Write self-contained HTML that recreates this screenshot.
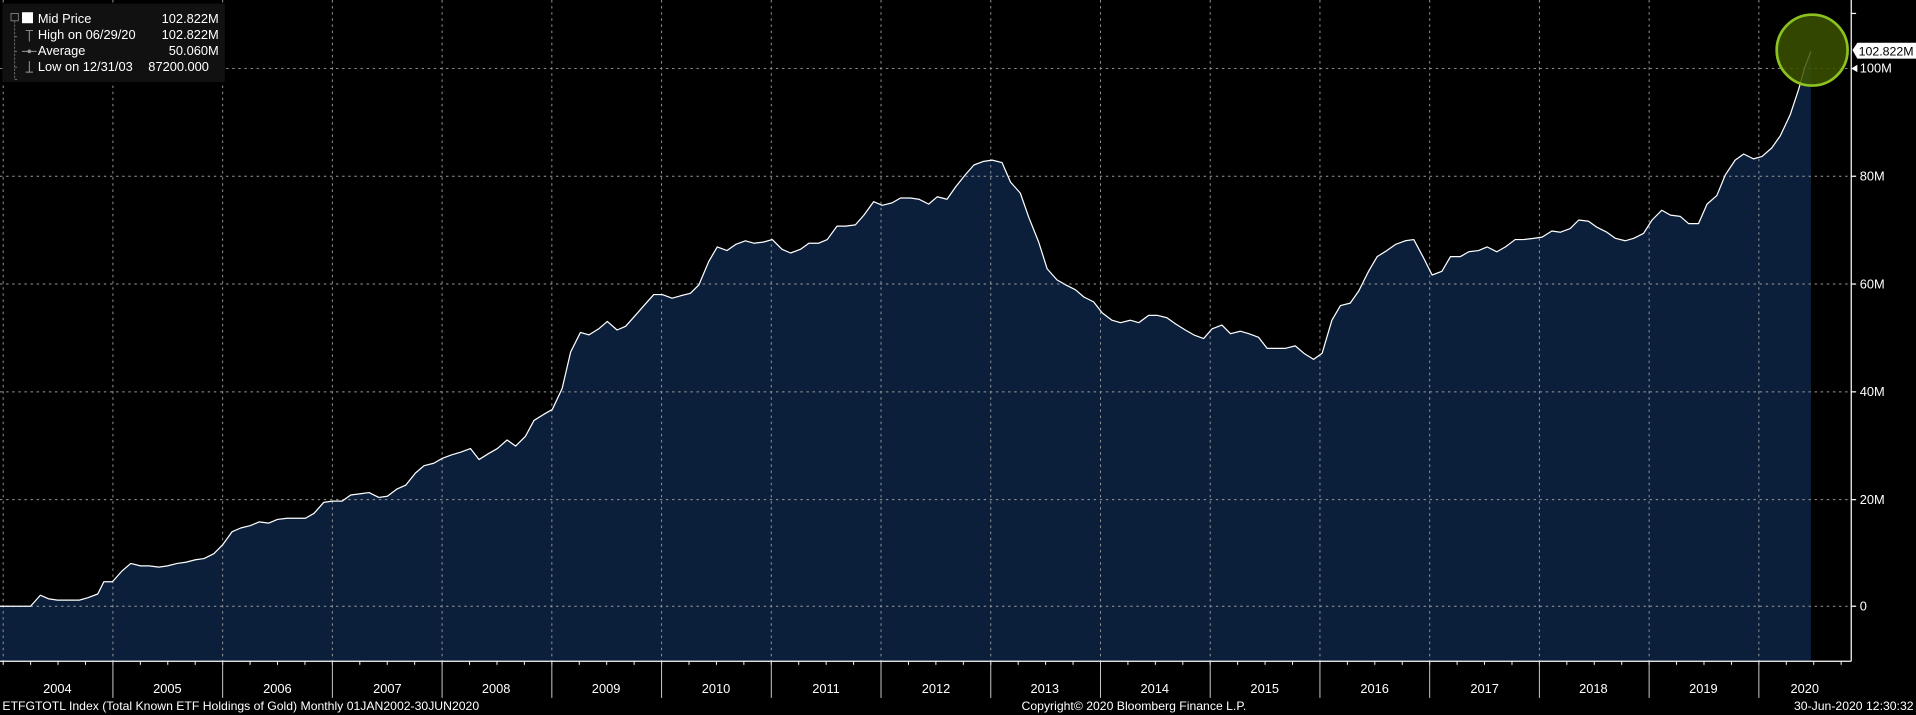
<!DOCTYPE html>
<html><head><meta charset="utf-8"><style>
html,body{margin:0;padding:0;background:#000;}
svg{display:block;}
text{font-family:"Liberation Sans",sans-serif;fill:#fff;}
</style></head><body>
<svg width="1916" height="715" viewBox="0 0 1568 585" preserveAspectRatio="none" xmlns="http://www.w3.org/2000/svg">
<defs>
<pattern id="vg" patternUnits="userSpaceOnUse" x="2.2" y="0" width="89.8" height="541">
<line x1="0.4" y1="0" x2="0.4" y2="541" stroke="#999" stroke-width="0.8" stroke-dasharray="2,3"/>
</pattern>
<pattern id="qt" patternUnits="userSpaceOnUse" x="2.2" y="541" width="22.45" height="4">
<line x1="0.4" y1="0" x2="0.4" y2="3" stroke="#fff" stroke-width="0.8"/>
</pattern>
<pattern id="ys" patternUnits="userSpaceOnUse" x="2.2" y="541" width="89.8" height="30">
<line x1="0.4" y1="0" x2="0.4" y2="30" stroke="#ccc" stroke-width="0.8"/>
</pattern>
</defs>
<rect width="1568" height="585" fill="#000"/>
<polygon fill="#0b1f3b" points="0,496 25,496 33,487 40,490 47,491 65,491 72,489 80,486 85,476 92,476 100,467 107,461 115,463 122,463 130,464 137,463 145,461 152,460 160,458 167,457 175,453 182,446 190,435 197,432 205,430 212,427 220,428 227,425 235,424 242,424 250,424 257,420 265,411 272,410 280,410 287,405 295,404 302,403 310,407 317,406 325,400 332,397 340,387 347,381 355,379 362,375 370,372 377,370 385,367 392,376 400,371 407,367 415,360 422,365 430,357 437,344 445,339 452,335 460,318 467,288 475,272 482,274 490,269 497,263 505,270 512,267 520,258 527,250 535,241 542,241 550,244 557,242 565,240 572,233 580,214 587,202 595,205 602,200 610,197 617,199 625,198 632,196 640,204 647,207 655,204 662,199 670,199 677,196 685,185 692,185 700,184 707,176 715,165 722,168 730,166 737,162 745,162 752,163 760,167 767,161 775,163 782,153 790,143 797,135 805,132 812,131 820,133 827,149 835,158 842,178 850,198 857,220 865,229 872,233 880,237 887,243 895,247 902,256 910,262 917,264 925,262 932,264 940,258 947,258 955,260 962,265 970,270 977,274 985,277 992,269 1000,266 1007,273 1015,271 1022,273 1030,276 1037,285 1045,285 1052,285 1060,283 1067,289 1075,294 1082,289 1090,262 1097,250 1105,248 1112,238 1120,222 1127,210 1135,205 1142,200 1150,197 1157,196 1165,211 1172,225 1180,222 1187,210 1195,210 1202,206 1210,205 1217,202 1225,206 1232,202 1240,196 1247,196 1255,195 1262,194 1270,189 1277,190 1285,187 1292,180 1300,181 1307,186 1315,190 1322,195 1330,197 1337,195 1345,191 1352,180 1360,172 1367,176 1375,177 1382,183 1390,183 1397,167 1405,160 1412,143 1420,131 1427,126 1435,130 1442,128 1450,121 1457,111 1465,94 1472,73 1477,55 1482,42 1482,541 0,541"/>
<rect x="0" y="0" width="1514" height="541" fill="url(#vg)"/>
<g stroke="#999" stroke-width="0.8" stroke-dasharray="2,3">
<line x1="0" y1="496" x2="1515" y2="496"/>
<line x1="0" y1="408.8" x2="1515" y2="408.8"/>
<line x1="0" y1="320.6" x2="1515" y2="320.6"/>
<line x1="0" y1="232.4" x2="1515" y2="232.4"/>
<line x1="0" y1="144.2" x2="1515" y2="144.2"/>
<line x1="0" y1="56" x2="1515" y2="56"/>
</g>
<polyline fill="none" stroke="#fff" stroke-width="1" stroke-linejoin="round" points="0,496 25,496 33,487 40,490 47,491 65,491 72,489 80,486 85,476 92,476 100,467 107,461 115,463 122,463 130,464 137,463 145,461 152,460 160,458 167,457 175,453 182,446 190,435 197,432 205,430 212,427 220,428 227,425 235,424 242,424 250,424 257,420 265,411 272,410 280,410 287,405 295,404 302,403 310,407 317,406 325,400 332,397 340,387 347,381 355,379 362,375 370,372 377,370 385,367 392,376 400,371 407,367 415,360 422,365 430,357 437,344 445,339 452,335 460,318 467,288 475,272 482,274 490,269 497,263 505,270 512,267 520,258 527,250 535,241 542,241 550,244 557,242 565,240 572,233 580,214 587,202 595,205 602,200 610,197 617,199 625,198 632,196 640,204 647,207 655,204 662,199 670,199 677,196 685,185 692,185 700,184 707,176 715,165 722,168 730,166 737,162 745,162 752,163 760,167 767,161 775,163 782,153 790,143 797,135 805,132 812,131 820,133 827,149 835,158 842,178 850,198 857,220 865,229 872,233 880,237 887,243 895,247 902,256 910,262 917,264 925,262 932,264 940,258 947,258 955,260 962,265 970,270 977,274 985,277 992,269 1000,266 1007,273 1015,271 1022,273 1030,276 1037,285 1045,285 1052,285 1060,283 1067,289 1075,294 1082,289 1090,262 1097,250 1105,248 1112,238 1120,222 1127,210 1135,205 1142,200 1150,197 1157,196 1165,211 1172,225 1180,222 1187,210 1195,210 1202,206 1210,205 1217,202 1225,206 1232,202 1240,196 1247,196 1255,195 1262,194 1270,189 1277,190 1285,187 1292,180 1300,181 1307,186 1315,190 1322,195 1330,197 1337,195 1345,191 1352,180 1360,172 1367,176 1375,177 1382,183 1390,183 1397,167 1405,160 1412,143 1420,131 1427,126 1435,130 1442,128 1450,121 1457,111 1465,94 1472,73 1477,55 1482,42"/>
<line x1="1515" y1="0" x2="1515" y2="541" stroke="#fff" stroke-width="1"/>
<line x1="0" y1="541" x2="1515" y2="541" stroke="#fff" stroke-width="1"/>
<rect x="0" y="541" width="1514" height="4" fill="url(#qt)"/>
<rect x="4" y="541" width="1510" height="30" fill="url(#ys)"/>
<g stroke="#fff" stroke-width="1">
<line x1="1515" x2="1519" y1="11" y2="11"/>
<line x1="1515" x2="1519" y1="144.2" y2="144.2"/>
<line x1="1515" x2="1519" y1="232.4" y2="232.4"/>
<line x1="1515" x2="1519" y1="320.6" y2="320.6"/>
<line x1="1515" x2="1519" y1="408.8" y2="408.8"/>
<line x1="1515" x2="1519" y1="496" y2="496"/>
</g>
<path d="M1515,56 L1520,53 L1520,59 Z" fill="#fff"/>
<g font-size="10.5">
<text x="1522" y="59.5">100M</text>
<text x="1522" y="147.7">80M</text>
<text x="1522" y="235.9">60M</text>
<text x="1522" y="324.1">40M</text>
<text x="1522" y="412.3">20M</text>
<text x="1522" y="499.5">0</text>
</g>
<g font-size="10.5" text-anchor="middle">
<text x="47" y="567">2004</text><text x="137" y="567">2005</text><text x="227" y="567">2006</text><text x="317" y="567">2007</text><text x="406" y="567">2008</text><text x="496" y="567">2009</text><text x="586" y="567">2010</text><text x="676" y="567">2011</text><text x="766" y="567">2012</text><text x="855" y="567">2013</text><text x="945" y="567">2014</text><text x="1035" y="567">2015</text><text x="1125" y="567">2016</text><text x="1215" y="567">2017</text><text x="1304" y="567">2018</text><text x="1394" y="567">2019</text><text x="1477" y="567">2020</text>
</g>
<circle cx="1483" cy="41" r="29" fill="#3b5200" fill-opacity="0.85" stroke="#8cc21f" stroke-width="2.2"/>
<path d="M1516,41 L1520,35 L1568,35 L1568,48 L1520,48 Z" fill="#fff"/>
<text x="1521" y="45.5" font-size="10" textLength="45" lengthAdjust="spacingAndGlyphs" style="fill:#000">102.822M</text>
<rect x="2" y="3" width="182" height="64" fill="#111"/>
<g font-size="10.5">
<rect x="9" y="11" width="6" height="6" fill="none" stroke="#888" stroke-width="0.7"/>
<rect x="18" y="10" width="9" height="9" fill="#fff"/>
<text x="31" y="19">Mid Price</text><text x="179" y="19" text-anchor="end">102.822M</text>
<text x="31" y="32">High on 06/29/20</text><text x="179" y="32" text-anchor="end">102.822M</text>
<text x="31" y="45">Average</text><text x="179" y="45" text-anchor="end">50.060M</text>
<text x="31" y="58">Low on 12/31/03</text><text x="171" y="58" text-anchor="end">87200.000</text>
<path d="M12,17 V65 M12,30 H15 M12,42 H15 M12,55 H15 M12,65 H15" stroke="#777" stroke-width="0.7" fill="none" stroke-dasharray="2,1"/>
<path d="M24,25 V34 M21,25 H27 M18,42 H30 M24,50 V59 M21,59 H27" stroke="#999" stroke-width="0.8" fill="none"/>
<circle cx="24" cy="42" r="1.5" fill="#999"/>
</g>
<text x="2" y="581" font-size="10">ETFGTOTL Index (Total Known ETF Holdings of Gold)  Monthly 01JAN2002-30JUN2020</text>
<text x="836" y="581" font-size="10">Copyright© 2020 Bloomberg Finance L.P.</text>
<text x="1566" y="581" font-size="10" text-anchor="end">30-Jun-2020 12:30:32</text>
</svg>
</body></html>
